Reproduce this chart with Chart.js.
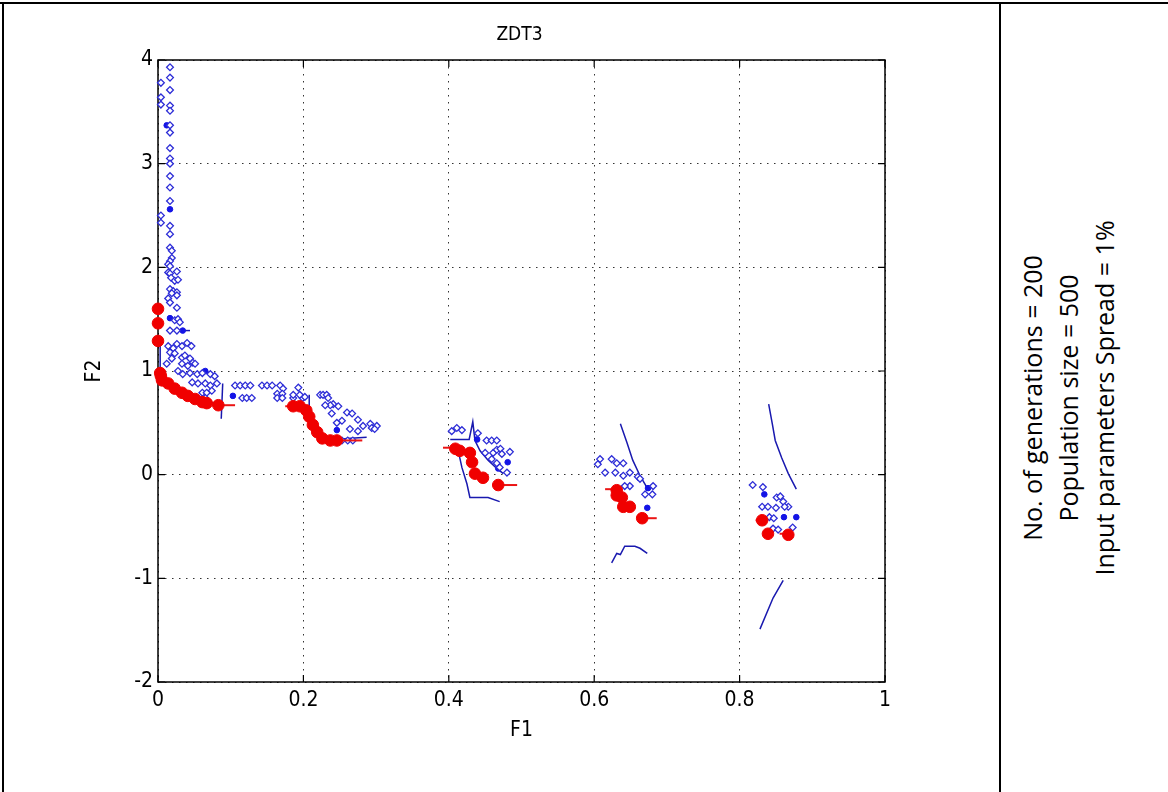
<!DOCTYPE html>
<html>
<head>
<meta charset="utf-8">
<script src="https://cdn.jsdelivr.net/npm/chart.js@4.4.0/dist/chart.umd.min.js"></script>
<style>
  html, body { margin: 0; padding: 0; background: #fff; }
  body { width: 1168px; height: 792px; position: relative; overflow: hidden; }
  #wrap { position: absolute; left: 0; top: 0; width: 1000px; height: 792px; }
  .hline { position: absolute; left: 0; top: 2px; width: 1168px; height: 2px; background: #000; }
  .vleft { position: absolute; left: 2px; top: 2px; width: 2px; height: 790px; background: #000; }
  .vmid { position: absolute; left: 999px; top: 2px; width: 2px; height: 790px; background: #000; }
  #side { position: absolute; left: 1068px; top: 398px; width: 0; height: 0; }
  #side div { position: absolute; left: 0; top: 0; transform: translate(-50%, -50%) rotate(-90deg);
    white-space: nowrap; font-family: 'Open Sans', 'Noto Sans', sans-serif; font-size: 25px; line-height: 36px; text-align: center; color: #000; }
</style>
</head>
<body>
<div class="hline"></div>
<div class="vleft"></div>
<div class="vmid"></div>
<div id="wrap"><canvas id="c" width="1000" height="792"></canvas></div>
<div id="side"><div>No. of generations = 200<br>Population size = 500<br>Input parameters Spread = 1%</div></div>
<script>
// ---- tick labels ----
const xTickLabels = ['0', '0.2', '0.4', '0.6', '0.8', '1'];
const yTickLabels = ['-2', '-1', '0', '1', '2', '3', '4'];
const chartTitle = 'ZDT3';
const xTitle = 'F1';
const yTitle = 'F2';

// ---- population (blue open diamonds) ----
const diamondF1 = [
  0.0165,0.0165,0.0165,0.0165,0.0165,0.0165,0.0165,0.0165,0.0165,0.0165,0.0165,0.0165,0.0165,0.0165,0.0165,
  0.004,0.004,0.004,0.004,0.004,
  0.0165,0.019,0.019,0.0165,0.014,0.0165,0.014,0.0165,0.026,0.018,0.023,0.0275,0.0165,0.021,0.026,0.019,0.014,0.0165,0.026,0.026,0.023,0.0275,0.030,0.0165,0.026,
  0.014,0.021,0.026,0.033,0.040,0.046,0.0165,0.023,0.019,0.033,0.037,0.044,0.048,0.033,0.041,0.051,0.012,
  0.0275,0.034,0.044,0.054,0.061,0.072,0.078,0.047,0.055,0.065,0.072,0.081,0.061,0.067,0.074,0.065,
  0.106,0.113,0.120,0.127,0.143,0.150,0.157,0.168,0.172,0.164,0.171,
  0.116,0.122,0.129,0.164,0.171,0.186,0.199,
  0.193,0.186,0.195,0.202,0.223,0.227,0.232,0.234,0.241,0.248,0.237,0.230,0.239,0.260,0.267,0.253,0.246,0.275,0.264,0.275,0.282,0.292,0.294,0.301,0.298,0.253,0.261,0.268,
  0.404,0.411,0.418,0.440,0.452,0.459,0.466,0.450,0.461,0.466,0.471,0.473,0.484,0.459,0.466,0.480,0.470,
  0.608,0.605,0.624,0.631,0.640,0.615,0.629,0.640,0.649,0.660,0.663,0.649,0.642,0.681,0.670,0.680,
  0.818,0.832,0.851,0.856,0.860,0.867,0.862,0.831,0.839,0.850,0.841,0.847,0.846,0.853,0.873
];
const diamondF2 = [
  3.93,3.83,3.71,3.56,3.51,3.37,3.30,3.15,3.05,3.00,2.88,2.77,2.64,2.40,2.32,
  3.78,3.64,3.57,2.50,2.43,
  2.19,2.16,2.09,2.06,2.03,2.01,1.95,1.94,1.96,1.90,1.87,1.88,1.79,1.77,1.76,1.75,1.70,1.66,1.73,1.61,1.49,1.50,1.47,1.39,1.39,
  1.24,1.22,1.26,1.24,1.27,1.24,1.18,1.17,1.12,1.13,1.15,1.12,1.08,1.07,1.05,1.07,1.07,
  1.00,0.97,0.98,0.97,0.98,0.97,0.95,0.89,0.88,0.88,0.86,0.88,0.79,0.79,0.81,0.74,
  0.86,0.86,0.86,0.86,0.86,0.86,0.86,0.86,0.83,0.78,0.78,
  0.74,0.74,0.74,0.74,0.74,0.74,0.74,
  0.84,0.77,0.77,0.75,0.77,0.77,0.77,0.74,0.68,0.66,0.67,0.67,0.59,0.60,0.59,0.52,0.50,0.53,0.44,0.42,0.47,0.49,0.45,0.47,0.44,0.33,0.33,0.33,
  0.42,0.45,0.43,0.40,0.33,0.33,0.33,0.21,0.21,0.24,0.25,0.20,0.22,0.15,0.11,0.02,0.07,
  0.15,0.10,0.15,0.11,0.11,0.02,0.02,-0.01,0.02,-0.02,-0.04,-0.11,-0.11,-0.11,-0.19,-0.19,
  -0.10,-0.12,-0.22,-0.21,-0.26,-0.31,-0.31,-0.31,-0.31,-0.32,-0.41,-0.42,-0.52,-0.53,-0.51
];

// ---- blue filled points ----
const dotF1 = [0.0165,0.012,0.0165,0.034,0.065,0.103,0.246,0.439,0.481,0.468,0.673,0.674,0.834,0.861,0.878];
const dotF2 = [2.56,3.37,1.51,1.39,1.00,0.76,0.43,0.34,0.12,0.06,-0.32,-0.13,-0.19,-0.41,-0.41];

// ---- final front (red markers) ----
const redF1 = [0,0,0,0.003,0.004,0.0055,0.014,0.023,0.033,0.041,0.051,0.061,0.067,0.083,
  0.186,0.195,0.204,0.208,0.213,0.219,0.226,0.237,0.246,
  0.409,0.415,0.429,0.432,0.436,0.447,0.468,
  0.631,0.631,0.638,0.640,0.649,0.666,
  0.831,0.839,0.867];
const redF2 = [1.60,1.46,1.29,0.98,0.95,0.91,0.88,0.83,0.79,0.76,0.73,0.70,0.69,0.67,
  0.66,0.66,0.62,0.56,0.48,0.41,0.35,0.33,0.33,
  0.25,0.23,0.21,0.12,0.01,-0.03,-0.10,
  -0.15,-0.20,-0.22,-0.31,-0.31,-0.42,
  -0.44,-0.57,-0.58];

// ---- red short segments [F1, F2] ----
const redSeg1 = [[0.074,0.67],[0.106,0.67]];
const redSeg2 = [[0.175,0.66],[0.202,0.66]];
const redSeg3 = [[0.246,0.33],[0.281,0.33]];
const redSeg4 = [[0.392,0.26],[0.415,0.26]];
const redSeg5 = [[0.468,-0.10],[0.494,-0.10]];
const redSeg6 = [[0.615,-0.14],[0.631,-0.14]];
const redSeg7 = [[0.666,-0.42],[0.686,-0.42]];
const redSeg8 = [[0.822,-0.44],[0.835,-0.44]];
const redSeg9 = [[0.855,-0.57],[0.873,-0.57]];

// ---- blue lines [F1, F2] ----
const blueLine1 = [[0.003,1.25],[0.003,1.0],[0.01,0.90],[0.03,0.80],[0.05,0.74],[0.07,0.70],[0.09,0.67]];
const blueLine2 = [[0.0275,1.39],[0.044,1.39]];
const blueLine3 = [[0.089,0.88],[0.087,0.54]];
const blueLine4 = [[0.208,0.77],[0.208,0.62],[0.215,0.52],[0.222,0.44],[0.228,0.38],[0.237,0.33],[0.26,0.35],[0.287,0.36]];
const blueLine5 = [[0.413,0.23],[0.418,0.07],[0.425,-0.09],[0.429,-0.22],[0.439,-0.22],[0.454,-0.22],[0.470,-0.26]];
const blueLine6 = [[0.402,0.34],[0.428,0.34],[0.433,0.51],[0.436,0.33],[0.443,0.23],[0.454,0.14],[0.466,0.06],[0.475,0.01]];
const blueLine7 = [[0.636,0.49],[0.645,0.31],[0.653,0.14],[0.663,-0.01],[0.673,-0.13],[0.680,-0.11]];
const blueLine8 = [[0.624,-0.85],[0.631,-0.76],[0.636,-0.77],[0.642,-0.69],[0.656,-0.69],[0.663,-0.71],[0.673,-0.76]];
const blueLine9 = [[0.840,0.68],[0.845,0.49],[0.849,0.33],[0.858,0.16],[0.867,0.01],[0.878,-0.14]];
const blueLine10 = [[0.828,-1.49],[0.846,-1.19],[0.860,-1.02]];

const pairs = (xs, ys) => xs.map((x, i) => ({x: x, y: ys[i]}));
const pts = arr => arr.map(p => ({x: p[0], y: p[1]}));

const labelFont = "'Liberation Sans Narrow', 'DejaVu Sans Condensed', 'Liberation Sans', sans-serif";

const datasets = [];
[blueLine1, blueLine2, blueLine3, blueLine4, blueLine5, blueLine6, blueLine7, blueLine8, blueLine9, blueLine10].forEach(l => {
  datasets.push({ data: pts(l), showLine: true, borderColor: 'rgb(25,25,175)', borderWidth: 1.5,
    pointRadius: 0, fill: false, clip: false, order: 4 });
});
datasets.push({ data: pairs(diamondF1, diamondF2), pointStyle: 'rectRot', pointRadius: 3.4,
  borderColor: 'rgb(45,45,215)', backgroundColor: '#ffffff', borderWidth: 1.3, clip: false, order: 3 });
datasets.push({ data: pairs(dotF1, dotF2), pointStyle: 'circle', pointRadius: 2.8,
  borderColor: 'rgb(20,20,230)', backgroundColor: 'rgb(20,20,230)', borderWidth: 1, clip: false, order: 3 });
[redSeg1, redSeg2, redSeg3, redSeg4, redSeg5, redSeg6, redSeg7, redSeg8, redSeg9].forEach(l => {
  datasets.push({ data: pts(l), showLine: true, borderColor: 'rgb(235,20,20)', borderWidth: 2,
    pointRadius: 0, fill: false, clip: false, order: 2 });
});
datasets.push({ data: pairs(redF1, redF2), pointStyle: 'circle', pointRadius: 5.8,
  borderColor: 'rgb(240,0,0)', backgroundColor: 'rgb(240,0,0)', borderWidth: 1, clip: false, order: 1 });

const boxPlugin = {
  id: 'box',
  beforeDatasetsDraw(chart) {
    const {ctx, chartArea: a, scales: {x, y}} = chart;
    ctx.save();
    ctx.strokeStyle = '#000';
    ctx.lineWidth = 1.5;
    ctx.strokeRect(a.left, a.top, a.right - a.left, a.bottom - a.top);
    ctx.lineWidth = 1.2;
    ctx.beginPath();
    x.ticks.forEach(t => {
      const px = x.getPixelForValue(t.value);
      ctx.moveTo(px, a.bottom); ctx.lineTo(px, a.bottom - 7);
      ctx.moveTo(px, a.top); ctx.lineTo(px, a.top + 7);
    });
    y.ticks.forEach(t => {
      const py = y.getPixelForValue(t.value);
      ctx.moveTo(a.left, py); ctx.lineTo(a.left + 7, py);
      ctx.moveTo(a.right, py); ctx.lineTo(a.right - 7, py);
    });
    ctx.stroke();
    ctx.restore();
  },
  afterDraw(chart) {
    const {ctx, chartArea: a} = chart;
    ctx.save();
    ctx.fillStyle = '#000';
    ctx.font = "19px " + labelFont;
    ctx.textAlign = 'center';
    ctx.textBaseline = 'middle';
    ctx.fillText(chartTitle, (a.left + a.right) / 2 - 2, 35);
    ctx.restore();
  }
};

new Chart(document.getElementById('c'), {
  type: 'scatter',
  data: { datasets: datasets },
  options: {
    responsive: false,
    animation: false,
    events: [],
    layout: { padding: { top: 60, right: 115, bottom: 0, left: 0 } },
    plugins: { legend: { display: false }, tooltip: { enabled: false }, title: { display: false } },
    scales: {
      x: {
        type: 'linear', min: 0, max: 1,
        afterFit: s => { s.height = 110; },
        ticks: { stepSize: 0.2, padding: 6, color: '#000', font: { family: labelFont, size: 21 },
          callback: (v, i) => xTickLabels[i] },
        grid: { color: '#333', lineWidth: 1, drawTicks: false },
        border: { display: false, dash: [1.5, 5.5] },
        title: { display: true, text: xTitle, color: '#000', font: { family: labelFont, size: 21 }, padding: { bottom: 49 } }
      },
      y: {
        type: 'linear', min: -2, max: 4,
        afterFit: s => { s.width = 158; },
        ticks: { stepSize: 1, padding: 5, color: '#000', font: { family: labelFont, size: 21 },
          callback: (v, i) => yTickLabels[i] },
        grid: { color: '#333', lineWidth: 1, drawTicks: false },
        border: { display: false, dash: [1.5, 5.5] },
        title: { display: true, text: yTitle, color: '#000', font: { family: labelFont, size: 21 }, padding: { top: 82 } }
      }
    }
  },
  plugins: [boxPlugin]
});
</script>
</body>
</html>
